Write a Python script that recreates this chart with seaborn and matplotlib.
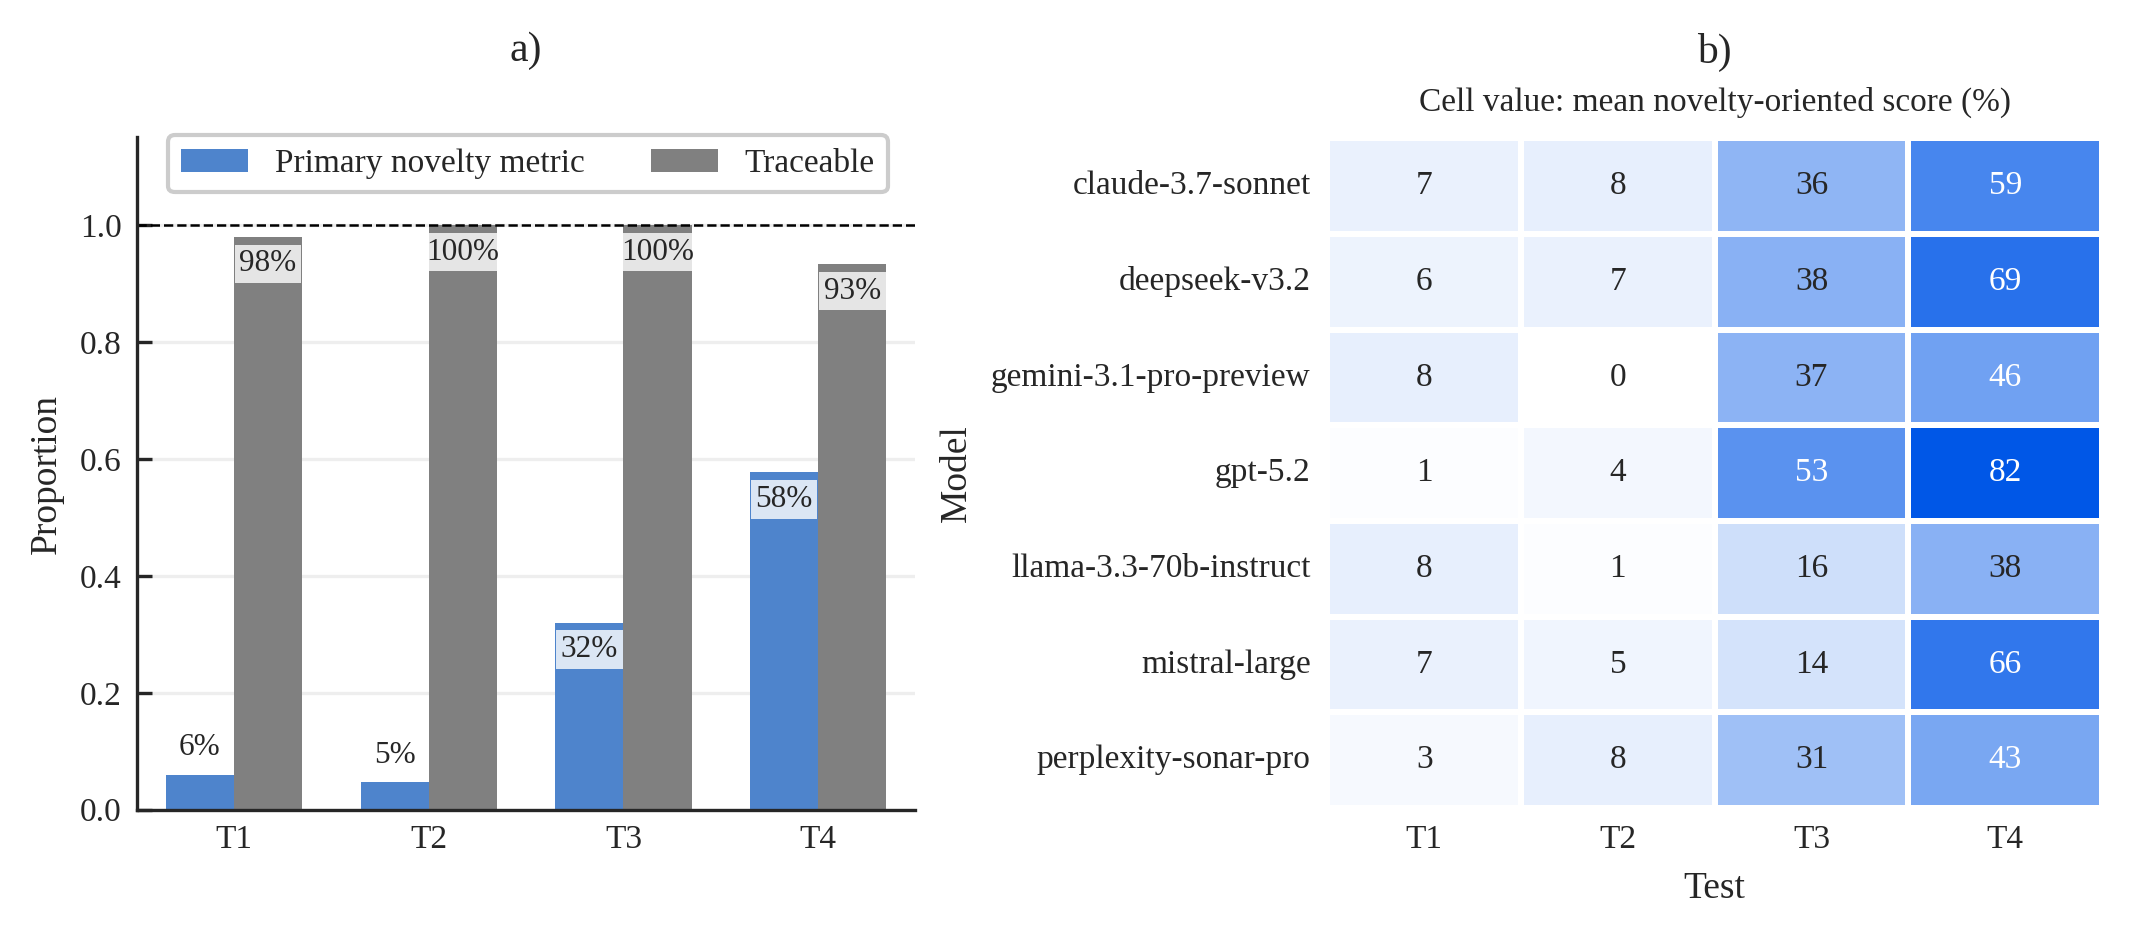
import numpy as np
import pandas as pd
import matplotlib
matplotlib.use("Agg")
import matplotlib.pyplot as plt
import seaborn as sns
from matplotlib.colors import LinearSegmentedColormap

tests = ["T1", "T2", "T3", "T4"]
primary = [0.06, 0.047, 0.32, 0.577]
traceable = [0.98, 1.0, 1.0, 0.933]

models = ["claude-3.7-sonnet", "deepseek-v3.2", "gemini-3.1-pro-preview", "gpt-5.2",
          "llama-3.3-70b-instruct", "mistral-large", "perplexity-sonar-pro"]
scores = [
    [7, 8, 36, 59],
    [6, 7, 38, 69],
    [8, 0, 37, 46],
    [1, 4, 53, 82],
    [8, 1, 16, 38],
    [7, 5, 14, 66],
    [3, 8, 31, 43],
]

sns.set_style("white")
plt.rcParams["font.family"] = ["Liberation Serif", "DejaVu Serif"]
plt.rcParams["font.size"] = 8

fig, (ax1, ax2) = plt.subplots(1, 2, figsize=(2134 / 300, 935 / 300), dpi=300)
ax1.set_position([0.064, 0.134, 0.365, 0.719])
ax2.set_position([0.622, 0.136, 0.363, 0.716])

# a) bars
df_bar = pd.DataFrame({
    "Test": tests * 2,
    "value": primary + traceable,
    "Metric": ["Primary novelty metric"] * 4 + ["Traceable"] * 4,
})
sns.barplot(data=df_bar, x="Test", y="value", hue="Metric", ax=ax1,
            palette=["#4E84CC", "#808080"], width=0.7, saturation=1, gap=0, linewidth=0)

for cont in ax1.containers:
    for bar in cont:
        h = bar.get_height()
        xc = bar.get_x() + bar.get_width() / 2
        if h > 0.15:
            ax1.annotate(f"{h * 100:.0f}%", (xc, h), xytext=(0, -3), textcoords="offset points",
                         ha="center", va="top", fontsize=7.5,
                         bbox=dict(boxstyle="square,pad=0.15", fc="white", ec="none", alpha=0.8))
        else:
            ax1.annotate(f"{h * 100:.0f}%", (xc, h), xytext=(0, 3), textcoords="offset points",
                         ha="center", va="bottom", fontsize=7.5)

ax1.axhline(1.0, color="black", ls="--", lw=0.6)
ax1.set_ylim(0, 1.15)
ax1.set_yticks([0, 0.2, 0.4, 0.6, 0.8, 1.0])
ax1.yaxis.grid(True, color="#eeeeee", lw=0.8)
ax1.set_axisbelow(True)
ax1.set_xlabel("")
ax1.set_ylabel("Proportion", fontsize=9)
ax1.tick_params(direction="in", length=3.5, width=0.8, labelsize=8, left=True, bottom=True)
sns.despine(ax=ax1)
ax1.set_title("a)", fontsize=10, y=1.076)
ax1.legend(loc="upper right", bbox_to_anchor=(0.986, 1.028), ncol=2, fontsize=8,
           columnspacing=2.0, handlelength=2.0, frameon=True, edgecolor="#cccccc",
           framealpha=1, fancybox=True)

# b) heatmap
df_heat = pd.DataFrame(scores, index=models, columns=tests)
df_heat.index.name = "Model"
df_heat.columns.name = "Test"
cmap = LinearSegmentedColormap.from_list("blues", ["#ffffff", "#0057e7"])
sns.heatmap(df_heat, ax=ax2, annot=True, fmt="d", cmap=cmap, vmin=0, vmax=82,
            linewidths=1, linecolor="white", cbar=False, annot_kws={"fontsize": 8})
ax2.tick_params(length=0, labelsize=8, pad=4)
ax2.set_yticklabels(ax2.get_yticklabels(), rotation=0)
ax2.set_xlabel("Test", fontsize=9)
ax2.set_ylabel("Model", fontsize=9)
ax2.set_title("b)", fontsize=10, y=1.076)
ax2.text(0.5, 1.03, "Cell value: mean novelty-oriented score (%)", transform=ax2.transAxes,
         ha="center", va="bottom", fontsize=8)

fig.savefig("out.png", dpi=300)
